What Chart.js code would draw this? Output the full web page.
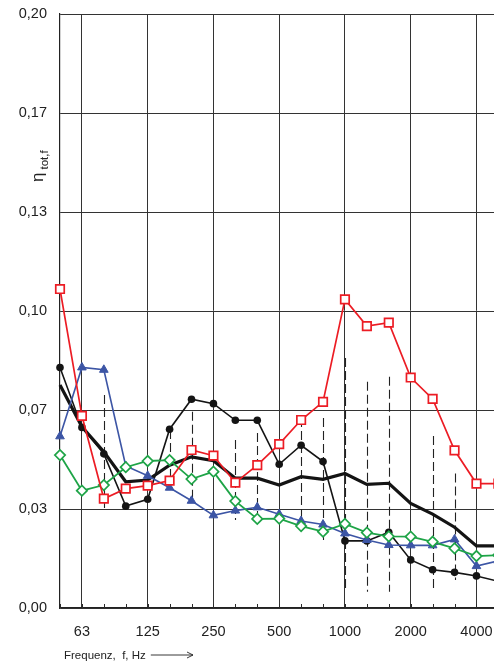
<!DOCTYPE html>
<html>
<head>
<meta charset="utf-8">
<script src="https://cdn.jsdelivr.net/npm/chart.js@4/dist/chart.umd.min.js"></script>
<style>
  html, body { margin: 0; padding: 0; background: #fff; }
  #c { display: block; }
</style>
</head>
<body>
<canvas id="c" width="494" height="663"></canvas>
<script>
// Third-octave band centre frequencies (Hz)
const bands = ['50','63','80','100','125','160','200','250','315','400','500','630','800','1000','1250','1600','2000','2500','3150','4000','5000'];
// Octave bands that carry a label and a grid line (indices into bands)
const octaveIdx = [1, 4, 7, 10, 13, 16, 19];
// Loss factor axis ticks
const yTicks = [0, 1/30, 2/30, 3/30, 4/30, 5/30, 6/30];

// Total loss factor per band for each measured structure
const redSquares   = [0.1074, 0.0647, 0.0368, 0.0402, 0.0412, 0.0429, 0.0532, 0.0513, 0.0422, 0.0481, 0.0552, 0.0633, 0.0694, 0.1039, 0.0949, 0.0961, 0.0776, 0.0704, 0.0531, 0.0419, 0.0419];
const blackDots    = [0.0810, 0.0608, 0.0519, 0.0343, 0.0366, 0.0602, 0.0703, 0.0688, 0.0632, 0.0632, 0.0484, 0.0548, 0.0493, 0.0226, 0.0226, 0.0255, 0.0162, 0.0129, 0.0120, 0.0108, 0.0090];
const blueTriangles= [0.0578, 0.0810, 0.0802, 0.0478, 0.0445, 0.0405, 0.0361, 0.0312, 0.0328, 0.0339, 0.0316, 0.0293, 0.0281, 0.0251, 0.0229, 0.0212, 0.0211, 0.0211, 0.0231, 0.0141, 0.0159];
const greenDiamonds= [0.0515, 0.0395, 0.0414, 0.0474, 0.0495, 0.0498, 0.0434, 0.0459, 0.0360, 0.0300, 0.0301, 0.0276, 0.0257, 0.0283, 0.0254, 0.0241, 0.0240, 0.0223, 0.0201, 0.0175, 0.0178];
const meanValues   = [0.0751, 0.0610, 0.0526, 0.0425, 0.0431, 0.0481, 0.0509, 0.0496, 0.0437, 0.0437, 0.0414, 0.0442, 0.0433, 0.0453, 0.0416, 0.0420, 0.0352, 0.0316, 0.0272, 0.0209, 0.0209];

// Spread around the mean (dashed vertical ranges); null = no range drawn
const rangeLow  = [null, null, 0.0330, null, null, 0.0397, 0.0358, null, 0.0296, 0.0296, null, 0.0263, 0.0229, 0.0060, 0.0055, 0.0055, null, 0.0055, 0.0094, null, null];
const rangeHigh = [null, null, 0.0717, null, null, 0.0599, 0.0661, null, 0.0566, 0.0589, null, 0.0640, 0.0640, 0.0842, 0.0762, 0.0779, null, 0.0579, 0.0453, null, null];

const FONT = "'Liberation Sans', Arial, Helvetica, sans-serif";
const toPoints = arr => arr.map((v, i) => ({ x: i, y: v }));
const CLIP = { left: 10, top: 10, right: 0, bottom: 10 };

// Band tick marks, dashed ranges and axis titles
const overlay = {
  id: 'overlay',
  beforeDatasetsDraw(chart) {
    const { ctx, chartArea, scales: { x, y } } = chart;
    ctx.save();
    ctx.strokeStyle = '#2a2a2a';
    ctx.lineWidth = 1;
    bands.forEach((b, i) => {
      const px = Math.round(x.getPixelForValue(i)) + 0.5;
      if (px > chartArea.right) return;
      ctx.beginPath();
      ctx.moveTo(px, chartArea.bottom);
      ctx.lineTo(px, chartArea.bottom - 4);
      ctx.stroke();
    });
    ctx.setLineDash([9, 4]);
    ctx.strokeStyle = '#222';
    ctx.lineWidth = 1.1;
    rangeLow.forEach((lo, i) => {
      const hi = rangeHigh[i];
      if (lo == null || hi == null) return;
      const px = Math.round(x.getPixelForValue(i)) + 0.5;
      ctx.beginPath();
      ctx.moveTo(px, y.getPixelForValue(hi));
      ctx.lineTo(px, y.getPixelForValue(lo));
      ctx.stroke();
    });
    ctx.restore();
  },
  afterDraw(chart) {
    const { ctx } = chart;
    ctx.save();
    ctx.fillStyle = '#222';
    // y-axis title: eta with subscript, rotated
    ctx.translate(43, 182);
    ctx.rotate(-Math.PI / 2);
    ctx.textBaseline = 'alphabetic';
    ctx.textAlign = 'left';
    ctx.font = `17px ${FONT}`;
    ctx.fillText('η', 0, 0);
    const w = ctx.measureText('η').width;
    ctx.font = `11.5px ${FONT}`;
    ctx.fillText('tot,f', w + 3, 5);
    ctx.restore();

    // x-axis title with arrow
    ctx.save();
    ctx.fillStyle = '#222';
    ctx.strokeStyle = '#222';
    ctx.font = `11.5px ${FONT}`;
    ctx.textBaseline = 'alphabetic';
    ctx.textAlign = 'left';
    const txt = 'Frequenz,  f, Hz';
    const tx = 64, ty = 659;
    ctx.fillText(txt, tx, ty);
    const end = tx + ctx.measureText(txt).width;
    const ay = ty - 4;
    ctx.lineWidth = 0.9;
    ctx.beginPath();
    ctx.moveTo(end + 5, ay);
    ctx.lineTo(193, ay);
    ctx.stroke();
    ctx.beginPath();
    ctx.moveTo(187, ay - 3);
    ctx.lineTo(193, ay);
    ctx.lineTo(187, ay + 3);
    ctx.stroke();
    ctx.restore();
  }
};

new Chart(document.getElementById('c'), {
  type: 'line',
  data: {
    datasets: [
      {
        label: 'Mittelwert',
        data: toPoints(meanValues),
        borderColor: '#141414',
        borderWidth: 3.2,
        pointRadius: 0,
        tension: 0,
        order: 4,
        clip: CLIP
      },
      {
        label: 'Messung 1',
        data: toPoints(blackDots),
        borderColor: '#141414',
        borderWidth: 1.6,
        pointStyle: 'circle',
        pointRadius: 3.8,
        pointBackgroundColor: '#141414',
        pointBorderColor: '#141414',
        pointBorderWidth: 0,
        tension: 0,
        order: 3,
        clip: CLIP
      },
      {
        label: 'Messung 2',
        data: toPoints(blueTriangles),
        borderColor: '#3c55a5',
        borderWidth: 1.6,
        pointStyle: 'triangle',
        pointRadius: 5,
        pointBackgroundColor: '#3c55a5',
        pointBorderColor: '#3c55a5',
        pointBorderWidth: 1,
        tension: 0,
        order: 2,
        clip: CLIP
      },
      {
        label: 'Messung 3',
        data: toPoints(greenDiamonds),
        borderColor: '#1ea447',
        borderWidth: 1.8,
        pointStyle: 'rectRot',
        pointRadius: 5.2,
        pointBackgroundColor: '#ffffff',
        pointBorderColor: '#1ea447',
        pointBorderWidth: 1.7,
        tension: 0,
        order: 1,
        clip: CLIP
      },
      {
        label: 'Messung 4',
        data: toPoints(redSquares),
        borderColor: '#ec1c24',
        borderWidth: 1.7,
        pointStyle: 'rect',
        pointRadius: 6,
        pointBackgroundColor: '#ffffff',
        pointBorderColor: '#ec1c24',
        pointBorderWidth: 1.7,
        tension: 0,
        order: 0,
        clip: CLIP
      }
    ]
  },
  options: {
    responsive: false,
    devicePixelRatio: 1,
    animation: false,
    layout: { autoPadding: false, padding: { top: 14, right: 0, bottom: 0, left: 0 } },
    plugins: { legend: { display: false }, tooltip: { enabled: false } },
    scales: {
      x: {
        type: 'linear',
        min: 0,
        max: 19.8,
        afterBuildTicks: s => { s.ticks = octaveIdx.map(v => ({ value: v })); },
        afterFit: s => { s.height = 55; s.paddingLeft = 0; s.paddingRight = 0; },
        ticks: {
          callback: v => bands[v],
          autoSkip: false,
          maxRotation: 0,
          padding: 15,
          color: '#222',
          font: { family: FONT, size: 14.5 }
        },
        grid: { color: '#333', lineWidth: 1, drawTicks: false },
        border: { color: '#222', width: 1.2 }
      },
      y: {
        min: 0,
        max: 0.2,
        afterBuildTicks: s => { s.ticks = yTicks.map(v => ({ value: v })); },
        afterFit: s => { s.width = 60; s.paddingTop = 0; s.paddingBottom = 0; },
        ticks: {
          callback: v => v.toFixed(2).replace('.', ','),
          padding: 13,
          color: '#222',
          font: { family: FONT, size: 14.5 }
        },
        grid: { color: '#333', lineWidth: 1, drawTicks: false },
        border: { color: '#222', width: 1.2 }
      }
    }
  },
  plugins: [overlay]
});
</script>
</body>
</html>
